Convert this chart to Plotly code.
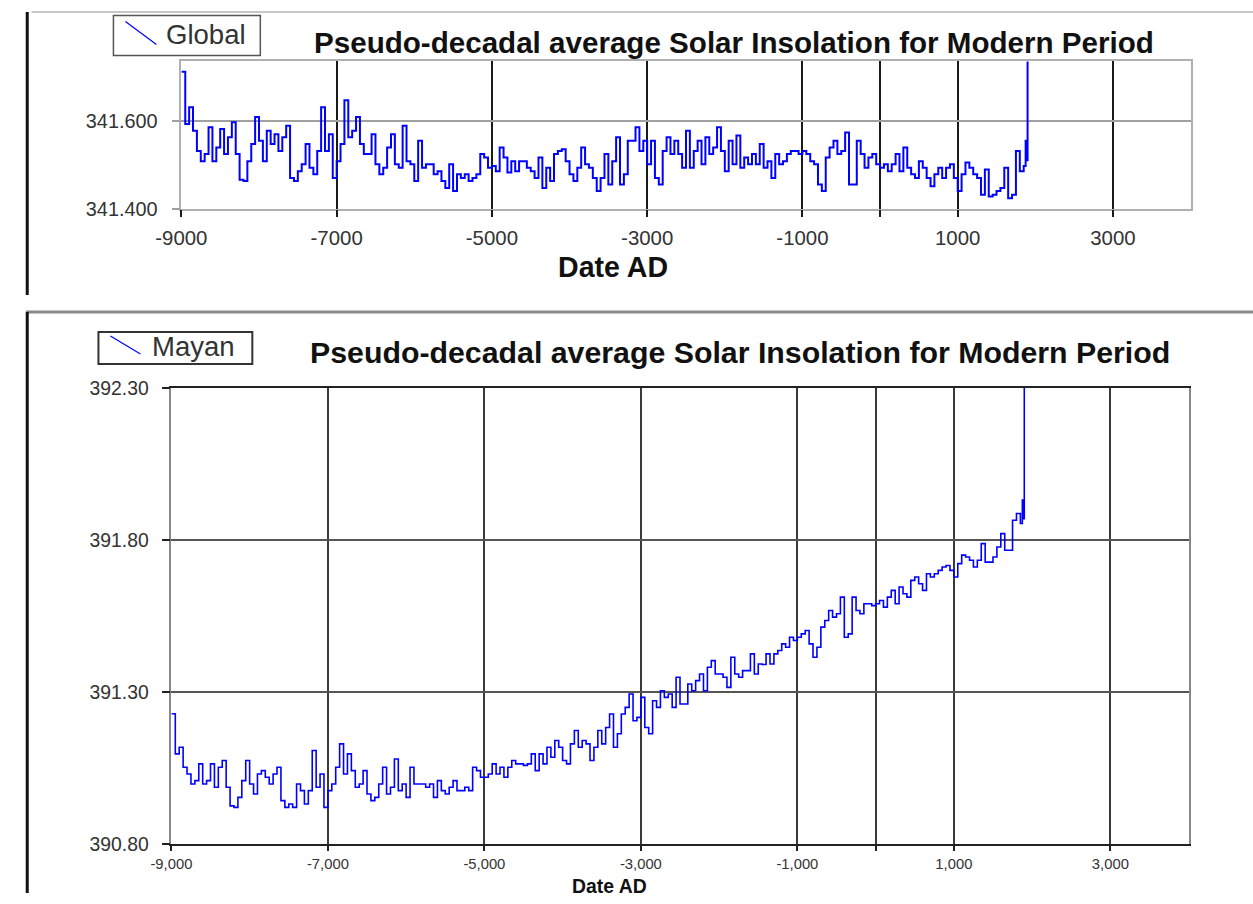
import plotly.graph_objects as go

W, H = 1253, 904

# ---------------- data ----------------
# Global series, 50-year steps from -9000 to 1850, then tail points
global_years = list(range(-9000, 1851, 50)) + [1875, 1890, 1900]
global_vals = [
    341.711, 341.592, 341.630, 341.577, 341.531, 341.508, 341.524, 341.585, 341.508, 341.539,  # -9000
    341.581, 341.524, 341.562, 341.596, 341.524, 341.466, 341.463, 341.508, 341.547, 341.608,  # -8500
    341.554, 341.508, 341.577, 341.547, 341.569, 341.531, 341.562, 341.588, 341.470, 341.463,  # -8000
    341.485, 341.501, 341.547, 341.493, 341.478, 341.531, 341.630, 341.531, 341.569, 341.470,  # -7500
    341.508, 341.547, 341.646, 341.562, 341.577, 341.608, 341.547, 341.524, 341.524, 341.569,  # -7000
    341.501, 341.478, 341.493, 341.539, 341.569, 341.501, 341.493, 341.588, 341.508, 341.501,  # -6500
    341.463, 341.554, 341.493, 341.501, 341.501, 341.478, 341.485, 341.463, 341.447, 341.501,  # -6000
    341.440, 341.478, 341.470, 341.478, 341.463, 341.470, 341.478, 341.524, 341.516, 341.493,  # -5500
    341.497, 341.485, 341.539, 341.516, 341.482, 341.508, 341.485, 341.508, 341.508, 341.493,  # -5000
    341.485, 341.470, 341.516, 341.447, 341.493, 341.463, 341.524, 341.531, 341.535, 341.508,  # -4500
    341.478, 341.463, 341.493, 341.539, 341.501, 341.493, 341.470, 341.440, 341.470, 341.524,  # -4000
    341.455, 341.508, 341.562, 341.455, 341.478, 341.554, 341.554, 341.585, 341.531, 341.554,  # -3500
    341.501, 341.554, 341.470, 341.455, 341.531, 341.562, 341.524, 341.554, 341.524, 341.493,  # -3000
    341.577, 341.493, 341.531, 341.554, 341.501, 341.562, 341.524, 341.539, 341.585, 341.531,  # -2500
    341.485, 341.554, 341.501, 341.566, 341.493, 341.516, 341.501, 341.524, 341.501, 341.547,  # -2000
    341.493, 341.508, 341.470, 341.524, 341.501, 341.508, 341.524, 341.531, 341.531, 341.524,  # -1500
    341.531, 341.524, 341.508, 341.501, 341.455, 341.440, 341.516, 341.539, 341.554, 341.524,  # -1000
    341.531, 341.573, 341.455, 341.455, 341.554, 341.524, 341.493, 341.516, 341.524, 341.501,  # -500
    341.493, 341.501, 341.485, 341.501, 341.524, 341.485, 341.539, 341.493, 341.478, 341.470,  # 0
    341.508, 341.493, 341.470, 341.451, 341.478, 341.493, 341.470, 341.493, 341.501, 341.470,  # 500
    341.440, 341.478, 341.505, 341.493, 341.478, 341.470, 341.432, 341.489, 341.428, 341.432,  # 1000
    341.440, 341.447, 341.493, 341.424, 341.432, 341.531, 341.485, 341.497,                    # 1500-1850
    341.554, 341.510, 341.800,                                                                  # 1875, 1890, 1900
]

# Mayan series, same sampling
mayan_years = list(range(-9000, 1851, 50)) + [1875, 1890, 1900]
mayan_vals = [
    391.228, 391.096, 391.118, 391.052, 391.030, 390.997, 391.008, 391.063, 390.997, 391.008,  # -9000
    391.063, 390.986, 391.052, 391.074, 390.986, 390.925, 390.920, 390.953, 391.008, 391.074,  # -8500
    390.997, 390.964, 391.030, 391.041, 391.019, 390.997, 391.030, 391.052, 390.942, 390.920,  # -8000
    390.931, 390.920, 390.997, 390.975, 390.931, 390.975, 391.107, 390.986, 391.030, 390.920,  # -7500
    390.975, 390.997, 391.052, 391.129, 391.030, 391.096, 391.041, 390.986, 390.997, 391.041,  # -7000
    390.964, 390.942, 390.953, 390.997, 391.052, 390.964, 390.986, 391.079, 390.975, 390.997,  # -6500
    390.953, 391.052, 390.997, 390.997, 390.997, 390.986, 390.997, 390.953, 391.008, 390.975,  # -6000
    390.964, 390.986, 391.008, 390.975, 390.975, 390.986, 390.975, 391.052, 391.041, 391.019,  # -5500
    391.019, 391.030, 391.063, 391.030, 391.052, 391.019, 391.052, 391.074, 391.063, 391.063,  # -5000
    391.058, 391.063, 391.096, 391.041, 391.096, 391.063, 391.118, 391.085, 391.140, 391.118,  # -4500
    391.074, 391.063, 391.129, 391.173, 391.118, 391.140, 391.129, 391.074, 391.118, 391.173,  # -4000
    391.129, 391.183, 391.227, 391.118, 391.162, 391.227, 391.249, 391.293, 391.205, 391.216,  # -3500
    391.282, 391.183, 391.162, 391.271, 391.249, 391.304, 391.282, 391.293, 391.249, 391.348,  # -3000
    391.260, 391.260, 391.326, 391.304, 391.337, 391.359, 391.304, 391.381, 391.403, 391.359,  # -2500
    391.359, 391.348, 391.315, 391.414, 391.359, 391.348, 391.370, 391.370, 391.425, 391.359,  # -2000
    391.392, 391.390, 391.425, 391.392, 391.425, 391.436, 391.458, 391.447, 391.480, 391.469,  # -1500
    391.480, 391.491, 391.502, 391.458, 391.414, 391.447, 391.513, 391.535, 391.568, 391.546,  # -1000
    391.557, 391.612, 391.480, 391.491, 391.612, 391.568, 391.557, 391.590, 391.590, 391.584,  # -500
    391.590, 391.601, 391.579, 391.612, 391.634, 391.590, 391.645, 391.623, 391.612, 391.667,  # 0
    391.678, 391.656, 391.634, 391.689, 391.678, 391.689, 391.700, 391.711, 391.716, 391.700,  # 500
    391.678, 391.722, 391.750, 391.744, 391.733, 391.711, 391.733, 391.788, 391.727, 391.727,  # 1000
    391.744, 391.777, 391.821, 391.766, 391.766, 391.865, 391.887, 391.854,                    # 1500-1850
    391.931, 391.870, 392.450,                                                                  # 1875, 1890, 1900
]

x_tickvals = [-9000, -7000, -5000, -3000, -1000, 0, 1000, 3000]
x_ticktext_top = ["-9000", "-7000", "-5000", "-3000", "-1000", "", "1000", "3000"]
x_ticktext_bot = ["-9,000", "-7,000", "-5,000", "-3,000", "-1,000", "", "1,000", "3,000"]
y_tickvals_top = [341.4, 341.6]
y_ticktext_top = ["341.400", "341.600"]
y_tickvals_bot = [390.8, 391.3, 391.8, 392.3]
y_ticktext_bot = ["390.80", "391.30", "391.80", "392.30"]

title_text = "Pseudo-decadal average Solar Insolation for Modern Period"

# the photographed page comes out slightly scaled/offset; map target picture
# pixels back to paper coordinates
SX, OX, SY, OY = 0.980, 24.5, 0.974, 11.6


def px(t):
    return min(max(((t - OX) / SX) / W, 0.0), 1.0)


def py(t):
    return min(max(1 - ((t - OY) / SY) / H, 0.0), 1.0)


FS = 1 / 0.98  # font compensation
FONT = "Liberation Sans, Arial, sans-serif"

fig = go.Figure()
fig.add_trace(go.Scatter(x=global_years, y=global_vals, mode="lines",
                         line=dict(color="#0000ff", width=2.0, shape="hv"),
                         xaxis="x", yaxis="y", name="Global", showlegend=False,
                         hoverinfo="skip"))
fig.add_trace(go.Scatter(x=mayan_years, y=mayan_vals, mode="lines",
                         line=dict(color="#0000ff", width=1.6, shape="hv"),
                         xaxis="x2", yaxis="y2", name="Mayan", showlegend=False,
                         hoverinfo="skip"))

fig.update_layout(
    width=W, height=H,
    margin=dict(l=0, r=0, t=0, b=0),
    paper_bgcolor="white", plot_bgcolor="white",
    showlegend=False,
    xaxis=dict(domain=[px(180), px(1190)], anchor="y", range=[-9000, 4000],
               tickvals=x_tickvals, ticktext=x_ticktext_top,
               showgrid=True, gridcolor="#1a1a1a", gridwidth=1.8,
               ticks="outside", ticklen=7, tickcolor="#1a1a1a", tickwidth=1.8,
               showline=True, mirror=True, linecolor="#b0b0b0", linewidth=1.5,
               zeroline=False, ticklabelstandoff=3,
               tickfont=dict(family=FONT, size=20 * FS, color="#333")),
    yaxis=dict(domain=[py(209), py(62)], anchor="x", range=[341.4, 341.734],
               tickvals=y_tickvals_top, ticktext=y_ticktext_top,
               showgrid=True, gridcolor="#a0a0a0", gridwidth=1.8,
               ticks="outside", ticklen=8, tickcolor="#a0a0a0", tickwidth=1.5,
               showline=True, mirror=True, linecolor="#b0b0b0", linewidth=1.5,
               zeroline=False, ticklabelstandoff=10,
               tickfont=dict(family=FONT, size=19.5 * FS, color="#333")),
    xaxis2=dict(domain=[px(170), px(1188)], anchor="y2", range=[-9000, 4000],
                tickvals=x_tickvals, ticktext=x_ticktext_bot,
                showgrid=True, gridcolor="#3a3a3a", gridwidth=1.8,
                ticks="outside", ticklen=5, tickcolor="#222", tickwidth=1.8,
                showline=True, mirror=True, linecolor="#222", linewidth=2,
                zeroline=False, ticklabelstandoff=0,
                tickfont=dict(family=FONT, size=14.5 * FS, color="#333")),
    yaxis2=dict(domain=[py(843), py(388)], anchor="x2", range=[390.8, 392.3],
                tickvals=y_tickvals_bot, ticktext=y_ticktext_bot,
                showgrid=True, gridcolor="#555", gridwidth=1.5,
                ticks="outside", ticklen=8, tickcolor="#222", tickwidth=1.5,
                showline=True, mirror=True, linecolor="#888", linewidth=1.5,
                zeroline=False, ticklabelstandoff=9,
                tickfont=dict(family=FONT, size=19 * FS, color="#333")),
)

shapes = []
# outer panel frames
shapes.append(dict(type="line", xref="paper", yref="paper", x0=px(30), x1=1, y0=0.999, y1=0.999,
                   line=dict(color="#c8c8c8", width=2)))
shapes.append(dict(type="line", xref="paper", yref="paper", x0=0.001, x1=0.001, y0=0.999, y1=py(295),
                   line=dict(color="#111", width=3)))
shapes.append(dict(type="line", xref="paper", yref="paper", x0=0, x1=1, y0=py(312), y1=py(312),
                   line=dict(color="#8a8a8a", width=3)))
shapes.append(dict(type="line", xref="paper", yref="paper", x0=0.001, x1=0.001, y0=py(312), y1=0,
                   line=dict(color="#111", width=3)))
# legend boxes
shapes.append(dict(type="rect", xref="paper", yref="paper", x0=px(112), x1=px(259), y0=py(56), y1=py(16),
                   line=dict(color="#555", width=1.5), fillcolor="white"))
shapes.append(dict(type="line", xref="paper", yref="paper", x0=px(124), x1=px(155), y0=py(22), y1=py(45),
                   line=dict(color="#0000ff", width=1.2)))
shapes.append(dict(type="rect", xref="paper", yref="paper", x0=px(97), x1=px(251), y0=py(364), y1=py(332),
                   line=dict(color="#333", width=2), fillcolor="white"))
shapes.append(dict(type="line", xref="paper", yref="paper", x0=px(109), x1=px(139), y0=py(336), y1=py(354),
                   line=dict(color="#0000ff", width=1.2)))
fig.update_layout(shapes=shapes)

ann = []
ann.append(dict(text="Global", xref="paper", yref="paper", x=px(163), y=py(35), xanchor="left",
                yanchor="middle", showarrow=False, font=dict(family=FONT, size=27 * FS, color="#333")))
ann.append(dict(text="Mayan", xref="paper", yref="paper", x=px(149), y=py(347), xanchor="left",
                yanchor="middle", showarrow=False, font=dict(family=FONT, size=27 * FS, color="#333")))
ann.append(dict(text="<b>" + title_text + "</b>", xref="paper", yref="paper", x=px(733), y=py(43),
                xanchor="center", yanchor="middle", showarrow=False,
                font=dict(family=FONT, size=29 * FS, color="#111")))
ann.append(dict(text="<b>" + title_text + "</b>", xref="paper", yref="paper", x=px(739), y=py(353),
                xanchor="center", yanchor="middle", showarrow=False,
                font=dict(family=FONT, size=29.7 * FS, color="#111")))
ann.append(dict(text="<b>Date AD</b>", xref="paper", yref="paper", x=px(612), y=py(267),
                xanchor="center", yanchor="middle", showarrow=False,
                font=dict(family=FONT, size=28 * FS, color="#111")))
ann.append(dict(text="<b>Date AD</b>", xref="paper", yref="paper", x=px(608), y=py(885),
                xanchor="center", yanchor="middle", showarrow=False,
                font=dict(family=FONT, size=19 * FS, color="#111")))
fig.update_layout(annotations=ann)

fig.write_html("out.html")
